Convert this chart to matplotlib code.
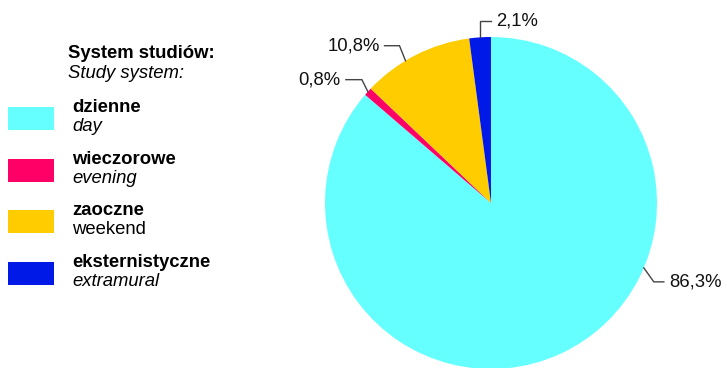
import numpy as np
import matplotlib
matplotlib.use('Agg')
import matplotlib.pyplot as plt
from matplotlib.patches import Rectangle

plt.rcParams['font.family'] = ['Liberation Sans', 'DejaVu Sans']

# ── Data ──────────────────────────────────────────────────────────────────────
names_pl = ['dzienne', 'wieczorowe', 'zaoczne', 'eksternistyczne']
names_en = ['day', 'evening', 'weekend', 'extramural']
en_italic = [True, True, False, True]
shares = [86.3, 0.8, 10.8, 2.1]
colors = ['#66FFFF', '#FF0066', '#FFCC00', '#0019E6']

# ── Layout (pixel coords, y measured upwards) ─────────────────────────────────
W, H = 727, 368
CX, CY, R = 491, H - 203, 166
FS = 13.3
# label leader: anchor angle (None -> wedge middle), diagonal offset, horizontal run
label_angle = [-23, None, 121, None]
leader_diag = [(10, -14), (-6, 12), (-6, 15), (0, 16)]
leader_run = [10, -16, -15, 11]

fig = plt.figure(figsize=(W / 100, H / 100), dpi=100)
ax = fig.add_axes([0, 0, 1, 1])

wedges, _ = ax.pie(shares, colors=colors, startangle=90, counterclock=False,
                   center=(CX, CY), radius=R,
                   wedgeprops={'linewidth': 0})
ax.set_xlim(0, W)
ax.set_ylim(0, H)
ax.set_aspect('equal')
ax.axis('off')

for i, w in enumerate(wedges):
    ang = label_angle[i]
    if ang is None:
        ang = (w.theta1 + w.theta2) / 2
    a = np.deg2rad(ang)
    x0, y0 = CX + R * np.cos(a), CY + R * np.sin(a)
    x1, y1 = x0 + leader_diag[i][0], y0 + leader_diag[i][1]
    x2 = x1 + leader_run[i]
    ax.plot([x0, x1, x2], [y0, y1, y1], color='#444444', lw=1.0,
            solid_joinstyle='miter', zorder=5)
    txt = f'{shares[i]:.1f}'.replace('.', ',') + '%'
    side = 1 if leader_run[i] > 0 else -1
    ax.text(x2 + 5 * side, y1, txt, ha='left' if side > 0 else 'right',
            va='center', fontsize=FS, color='#111111')

# ── Legend ────────────────────────────────────────────────────────────────────
ax.text(68, H - 58, 'System studiów:', fontsize=FS, fontweight='bold',
        va='baseline', ha='left')
ax.text(68, H - 78, 'Study system:', fontsize=FS, style='italic',
        va='baseline', ha='left')

box_top = 107
step = 51.7
for i in range(len(names_pl)):
    top = box_top + i * step
    ax.add_patch(Rectangle((8, H - top - 23), 46, 23, facecolor=colors[i],
                           edgecolor='none'))
    ax.text(72, H - top - 5, names_pl[i], fontsize=FS, fontweight='bold',
            va='baseline', ha='left')
    ax.text(72, H - top - 24, names_en[i], fontsize=FS,
            style='italic' if en_italic[i] else 'normal',
            va='baseline', ha='left')

fig.savefig('out.png', dpi=100)
